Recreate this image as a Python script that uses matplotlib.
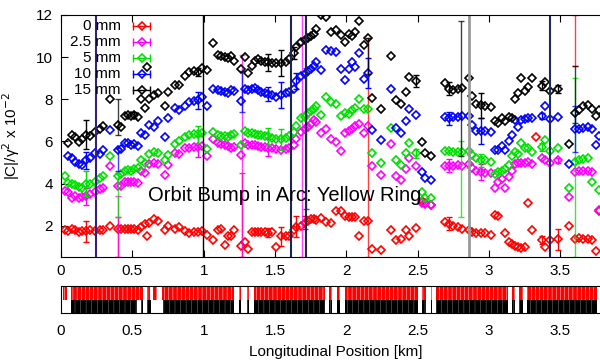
import numpy as np
import matplotlib.pyplot as plt

plt.rcParams['font.family'] = ['Liberation Sans', 'DejaVu Sans']
plt.rcParams['font.size'] = 11
plt.rcParams['hatch.linewidth'] = 0.3

nan = np.nan

# BPM positions along the ring [km]
pos = [0.026, 0.05, 0.077, 0.10, 0.124, 0.15, 0.176, 0.20, 0.236, 0.27,
       0.294, 0.34, 0.40, 0.42, 0.446, 0.47, 0.49, 0.51, 0.54, 0.56,
       0.59, 0.60, 0.62, 0.65, 0.68, 0.73, 0.75, 0.80, 0.83, 0.87,
       0.90, 0.93, 0.96, 0.99,
       1.02, 1.065, 1.10, 1.12, 1.15, 1.17, 1.19, 1.21, 1.26, 1.29,
       1.31, 1.34, 1.36, 1.38, 1.40, 1.43, 1.45, 1.48, 1.51, 1.54,
       1.58, 1.60, 1.63, 1.65, 1.68, 1.71, 1.73, 1.75, 1.77, 1.79,
       1.82, 1.86, 1.89, 1.93, 1.96,
       1.99, 2.02, 2.04, 2.06, 2.09, 2.12, 2.15, 2.18, 2.24, 2.31,
       2.35, 2.38, 2.42, 2.44, 2.49, 2.53, 2.55, 2.59,
       2.69, 2.72, 2.75, 2.78, 2.81, 2.86, 2.88, 2.91, 2.94, 2.97,
       3.01, 3.04, 3.06, 3.09, 3.11, 3.14, 3.16, 3.18, 3.20, 3.22,
       3.25, 3.27, 3.30, 3.33, 3.37, 3.39, 3.43, 3.48, 3.56, 3.60,
       3.63, 3.66, 3.69, 3.72, 3.75, 3.77]

# |C|/gamma^2 x 1e-2 for each bump amplitude
c_0mm = [1.8, 1.75, 1.85, 1.8, 1.72, 1.75, 1.75, 1.8, 1.75, 1.8,
         1.78, 2.0, 1.85, 1.87, 1.85, 1.85, 1.83, 1.85, 1.8, 1.95,
         2.1, 1.5, 2.15, 2.3, 2.25, 1.8, 2.0, 1.85, 1.95, 1.75,
         1.65, 1.7, 1.7, 1.75,
         1.57, 1.33, 1.8, 1.84, 1.1, 1.52, 1.52, 1.81, 1.02, 1.25,
         0.89, 1.7, 1.72, 1.7, 1.7, 1.7, 1.68, 1.7, 1.0, 1.5,
         1.5, 1.52, 1.8, 1.95, 2.0, 2.15, 2.25, 2.3, 2.32, 2.28,
         2.38, 2.2, 2.15, 2.68, 2.7,
         2.45, 2.42, 2.4, 2.42, 1.5, 2.25, 2.25, 0.89, 0.83, 1.78,
         1.33, 1.37, 1.8, 1.5, 1.9, 3.2, 3.1, 3.0,
         2.16, 2.1, 2.0, 1.95, 1.85, 1.78, 1.7, 1.65, 1.68, 1.65,
         1.55, 2.5, 2.45, nan, 1.67, 1.25, 1.15, 1.05, 1.0, 0.95,
         1.0, 3.1, 1.81, 6.2, 1.33, 1.0, 1.33, 1.37, 2.0, 1.38,
         1.4, 1.38, 1.38, 1.35, 0.8, 2.7]

c_2p5mm = [3.63, 3.6, 3.33, 3.4, 3.33, 3.35, 3.4, 3.5, 3.6, 3.73,
           3.8, 4.86, 3.87, 3.9, 4.1, 4.1, 4.1, 4.1, 4.05, 4.6,
           4.5, nan, 4.95, 5.0, 4.95, 4.4, 4.9, 5.45, 5.4, 5.7,
           5.7, 5.75, 5.75, 5.8,
           5.3, 6.1, 5.95, 5.9, 5.85, 5.8, 5.7, 5.75, 5.37, 5.92,
           5.85, 5.85, 5.81, 5.78, 5.75, 5.72, 5.7, 5.68, 5.65, 5.6,
           5.62, 5.71, 5.81, 6.1, 6.46, 6.57, 6.7, 6.81, 7.0, 6.94,
           6.41, 6.6, 6.14, 5.98, 5.56,
           6.4, 6.5, 6.6, 6.75, 6.85, 6.41, 6.73, 4.83, 4.43, 5.86,
           4.35, 4.19, 4.7, 5.22, 4.83, 3.1, 3.05, 2.98,
           4.83, 4.85, 4.85, 4.88, 4.85, 4.95, 4.75, 4.6, 4.55, 4.5,
           4.5, 3.8, 4.1, 4.2, 3.8, 4.3, 4.6, 4.95, 4.98, 5.0,
           5.0, 5.05, 4.95, nan, 5.2, 5.1, 5.0, 5.1, 3.37, 4.57,
           4.6, 4.6, 4.62, 4.55, nan, 2.76]

c_5mm = [4.35, 4.05, 4.0, 3.95, 3.85, 3.8, 4.0, 4.0, 4.1, 4.25,
         4.35, 5.33, 4.35, 4.45, 4.6, 4.65, 4.62, 4.7, 4.75, 5.14,
         5.0, nan, 5.4, 5.5, 5.45, 5.1, 5.35, 5.9, 6.0, 6.2,
         6.3, 6.35, 6.35, 6.4,
         5.65, 6.44, 6.3, 6.28, 6.25, 6.2, 6.3, 6.35, 5.81, 6.48,
         6.42, 6.38, 6.35, 6.33, 6.3, 6.27, 6.25, 6.15, 6.1, 6.1,
         6.15, 6.27, 6.44, 6.75, 7.13, 7.15, 7.33, 7.45, 7.54, 7.7,
         7.25, 8.1, 7.85, 7.8, 7.2,
         7.35, 7.3, 7.5, 7.6, 8.0, 7.52, 7.52, 5.46, 4.98, 6.65,
         5.1, 4.9, 5.43, 5.94, 5.43, 3.59, 3.32, 3.32,
         5.54, 5.55, 5.5, 5.5, 5.52, 5.54, 5.35, 5.2, 5.1, 5.1,
         5.05, 4.45, 4.55, 4.6, 4.7, 4.9, 5.33, 5.49, 5.4, 5.95,
         5.7, 5.7, 5.5, nan, 5.75, 6.05, 5.54, 5.7, 3.79, 5.05,
         5.1, 5.15, 5.2, 4.1, nan, 3.7]

c_10mm = [nan, 5.3, 5.2, 5.05, 4.95, 4.9, 5.1, 5.2, 5.43, 5.4,
          5.6, 6.54, 5.6, 5.65, 5.95, 5.95, 5.85, 5.9, 5.8, 6.4,
          6.3, nan, 6.8, 6.7, 6.95, 6.2, 7.1, 7.6, 7.5, 7.7,
          7.85, 7.9, 7.95, 8.1,
          7.68, 8.51, 8.45, 8.4, 8.35, 8.3, 8.45, 8.4, 7.92, 8.48,
          8.45, 8.5, 8.55, 8.45, 8.35, 8.29, 8.25, 8.2, 8.13, 8.2,
          8.29, 8.35, 8.48, 8.87, 9.11, 9.2, 9.35, 9.45, 9.59, 9.78,
          9.4, 10.35, 10.3, 10.25, 9.43,
          8.92, 9.43, 9.75, 9.55, 10.19, 8.95, 9.24, 6.54, 6.06, 8.51,
          6.65, 6.41, 6.97, 7.52, 7.24, 4.54, 4.27, 4.16,
          7.17, 7.1, 7.15, 7.15, 7.2, 7.2, 6.8, 6.5, 6.5, 6.5,
          6.45, 5.6, 5.6, 5.8, 5.6, 6.0, 6.3, 7.0, 6.7, 7.0,
          7.05, 7.1, 7.1, nan, 7.2, 7.7, 7.08, 7.17, 4.95, 6.57,
          6.6, 6.65, 6.7, 6.6, 5.81, 6.25]

c_15mm = [nan, 5.95, 6.33, 6.2, 5.97, 6.1, 6.33, 6.25, 6.44, 6.57,
          6.73, 8.03, 6.8, 6.7, 7.2, 7.25, 7.2, 7.25, 7.15, 8.0,
          7.6, 9.55, 8.0, 8.2, 8.3, 7.67, 8.35, 8.67, 8.7, 9.1,
          9.3, 9.35, 9.3, 9.5,
          9.4, 10.67, 10.1, 10.05, 10.0, 9.95, 10.05, 9.8, 9.43, 10.0,
          9.24, 9.6, 9.8, 9.9, 9.83, 9.78, 9.75, 9.72, 9.71, 9.72,
          9.78, 9.9, 10.19, 10.46, 10.7, 10.8, 10.89, 11.0, 11.1, 11.33,
          12.0, 11.9, 11.17, 11.3, 11.05,
          10.7, 11.1, 11.0, 11.2, 11.73, 10.57, 10.9, 8.08, 7.52, 10.06,
          7.97, 7.8, 8.35, 9.05, 8.87, 5.97, 5.46, 5.3,
          8.76, 8.5, 8.45, 8.48, 8.55, 9.03, 8.16, 7.76, 7.72, 7.7,
          7.65, 6.95, 6.9, 7.1, 6.95, 7.15, 7.1, 8.0, 8.3, 9.03,
          8.4, 8.6, 9.0, nan, 8.65, 8.8, 8.4, 8.5, 5.86, 7.37,
          7.5, 7.7, 7.75, 7.55, 7.2, 7.5]

# error bars on selected BPMs: (position, half width)
err_0mm = [(0.176, 0.5), (1.45, 0.2), (1.54, 0.45), (1.65, 0.5), (1.71, 0.3),
           (2.72, 0.3), (3.37, 0.2), (3.48, 0.5)]
err_2p5mm = [(0.176, 0.4), (0.96, 0.5), (1.45, 0.4), (2.72, 0.3), (2.94, 0.4),
             (3.48, 0.1)]
err_5mm = [(0.176, 0.6), (0.96, 0.4), (1.45, 0.4), (1.54, 0.5), (2.49, 0.2),
           (2.94, 0.3), (3.37, 0.2)]
err_10mm = [(0.176, 0.4), (0.96, 0.4), (1.45, 0.35), (1.54, 0.6), (1.65, 0.4),
            (2.15, 0.7), (2.72, 0.3), (2.94, 0.6), (3.37, 0.15)]
err_15mm = [(0.176, 0.7), (0.51, 0.15), (0.96, 0.2), (1.45, 0.4), (1.54, 0.6),
            (1.63, 0.3), (2.49, 0.3), (2.72, 0.3), (2.94, 0.6), (3.37, 0.2),
            (3.48, 0.2)]

# very large error bars of bad BPMs: (position, low, high)
span_0mm = [(0.40, 0.5, 2.4), (1.27, 0.5, 4.5), (2.15, 0.5, 10.9), (3.60, 9.6, 12.0)]
span_2p5mm = [(0.40, 0.5, 3.4), (1.27, 0.5, 10.1), (1.69, 0.5, 12.0)]
span_5mm = [(0.40, 2.4, 4.5), (2.80, 2.4, 6.0), (3.60, 0.5, 9.0)]
span_10mm = [(0.40, 4.6, 5.7), (1.27, 7.4, 9.35), (1.72, 2.8, 9.5), (3.60, 5.5, 7.7)]
span_15mm = [(0.40, 6.3, 8.0), (2.15, 9.2, 10.9), (2.80, 5.3, 11.7), (3.60, 6.9, 9.6)]

# full-height lines of failed BPMs
spike_x = [0.245, 0.993, 1.61, 1.72, 2.86, 3.43]
spike_color = ['#35207a', 'black', '#1c2450', '#1c2450', '#999999', '#1c2a60']
spike_width = [1.5, 1.0, 1.5, 1.5, 2.0, 1.5]

# lattice strip: (start, end) in km
red_segments = [(0.015, 0.04), (0.068, 0.572), (0.60, 0.624), (0.647, 0.67),
                (0.706, 1.21), (1.245, 1.26), (1.30, 1.32), (1.35, 1.85),
                (1.88, 1.897), (1.936, 1.955), (1.99, 2.50), (2.53, 2.56),
                (2.59, 2.60), (2.63, 3.13), (3.16, 3.18), (3.21, 3.235),
                (3.265, 3.754)]
black_segments = [(0.0, 0.01), (0.07, 0.53), (0.56, 0.575), (0.60, 0.63),
                  (0.715, 1.21), (1.245, 1.26), (1.30, 1.32), (1.35, 1.85),
                  (1.88, 1.897), (1.936, 1.955), (1.99, 2.50), (2.53, 2.56),
                  (2.59, 2.60), (2.63, 3.13), (3.16, 3.18), (3.21, 3.235),
                  (3.265, 3.754)]

xtick_pos = [0, 0.5, 1, 1.5, 2, 2.5, 3, 3.5]
xtick_labels = ['0', '0.5', '1', '1.5', '2', '2.5', '3', '3.5']
ytick_pos = [2, 4, 6, 8, 10, 12]

series = [
    ('0 mm', c_0mm, '#ff0000', err_0mm, span_0mm),
    ('2.5 mm', c_2p5mm, '#ff00ff', err_2p5mm, span_2p5mm),
    ('5 mm', c_5mm, '#00e000', err_5mm, span_5mm),
    ('10 mm', c_10mm, '#0000ff', err_10mm, span_10mm),
    ('15 mm', c_15mm, '#000000', err_15mm, span_15mm),
]

fig = plt.figure(figsize=(6, 3.61), dpi=100)
ax = fig.add_axes([61 / 600, 104 / 361, 539 / 600, 242 / 361])
strip = fig.add_axes([61 / 600, 48 / 361, 539 / 600, 27 / 361])

x = np.array(pos)
for label, vals, color, errs, spans in series:
    y = np.array(vals, dtype=float)
    ax.plot(x, y, linestyle='none', marker='D', ms=3.7, mfc='none',
            mec=color, mew=1.2)
    for ex, e in errs:
        i = np.argmin(np.abs(x - ex))
        ax.errorbar(x[i], y[i], yerr=e, fmt='none', ecolor=color,
                    elinewidth=1, capsize=2.5)
    for sx, lo, hi in spans:
        ax.errorbar(sx, (lo + hi) / 2, yerr=(hi - lo) / 2, fmt='none',
                    ecolor=color, elinewidth=1, capsize=2.5, alpha=0.75)

for sx, c, w in zip(spike_x, spike_color, spike_width):
    ax.axvline(sx, color=c, lw=w)

# gnuplot-style key: right aligned text, sample to the right
for i, (label, vals, color, errs, spans) in enumerate(series):
    ty = 1 - (11 + 16 * i) / 242
    ax.text(0.111, ty, label, transform=ax.transAxes, ha='right', va='center')
    ax.plot([0.134, 0.165], [ty, ty], transform=ax.transAxes, color=color,
            lw=1, marker='|', ms=6, mew=1, clip_on=False)
    ax.plot([0.1495], [ty], transform=ax.transAxes, color=color, marker='D',
            ms=3.7, mfc='none', mew=1.2, clip_on=False)

ax.text(0.61, 3.43, 'Orbit Bump in Arc: Yellow Ring', fontsize=14.5,
        va='center', zorder=10)

ax.set_xlim(0, 3.777)
ax.set_ylim(0.52, 12)
ax.set_xticks(xtick_pos)
ax.set_xticklabels(xtick_labels)
ax.set_yticks(ytick_pos)
ax.tick_params(direction='in', top=True, length=5, pad=5)
ax.tick_params(axis='y', pad=6)
ax.spines['right'].set_visible(False)
ax.set_ylabel('|C|/γ$^2$ x 10$^{-2}$')
ax.yaxis.set_label_coords(-(61 - 22) / 539, 0.5)

strip.broken_barh([(a, b - a) for a, b in red_segments], (0.5, 0.5),
                  facecolors='#ff0000', edgecolor='white', hatch='||||', lw=0)
strip.broken_barh([(a, b - a) for a, b in black_segments], (0.0, 0.5),
                  facecolors='#000000', edgecolor='#909090', hatch='|||', lw=0)
strip.set_xlim(0, 3.777)
strip.set_ylim(0, 1)
strip.set_yticks([])
strip.set_xticks(xtick_pos)
strip.set_xticklabels(xtick_labels)
strip.tick_params(direction='in', length=0, pad=8)
strip.spines['right'].set_visible(False)

fig.text(336 / 600, 1 - 352 / 361, 'Longitudinal Position [km]',
         ha='center', va='center')

fig.savefig('out.png', dpi=100)
